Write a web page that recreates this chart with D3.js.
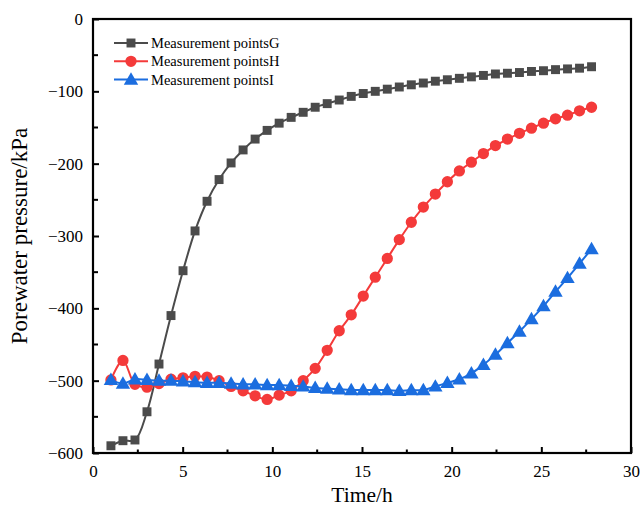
<!DOCTYPE html>
<html><head><meta charset="utf-8">
<script src="https://cdn.jsdelivr.net/npm/d3@7"></script>
<style>body{margin:0;background:#fff}svg{display:block}</style>
</head><body>
<svg id="c" width="641" height="511"></svg>
<script>
const times = d3.range(41).map(i => +(1 + i * 0.67).toFixed(2));
const seriesNames = ["Measurement pointsG", "Measurement pointsH", "Measurement pointsI"];
const valuesG = [-590,-583,-582,-543,-477,-410,-348,-293,-252,-222,-199,-181,-166,-154,-144,-136,-129,-122,-117,-112,-107,-103,-100,-97,-94,-91,-88.5,-86,-84,-82,-80,-78,-76,-75,-74,-72.5,-71.5,-70,-69,-68,-66];
const valuesH = [-499,-472,-505,-509,-504,-498,-496,-494,-495,-500,-508,-514,-521,-526,-520,-514,-500,-483,-458,-431,-409,-383,-357,-331,-305,-281,-260,-242,-225,-210,-198,-186,-175,-166,-158,-151,-144,-138,-133,-127,-122];
const valuesI = [-499,-504,-498,-499,-500,-500,-501,-502,-503,-503,-504,-505,-505,-506,-506,-507,-508,-510,-511,-512,-513,-513,-513,-513,-514,-513,-513,-508,-503,-498,-490,-478,-464,-448,-432,-415,-397,-377,-358,-338,-318];
const xTicks = [0,5,10,15,20,25,30];
const yTicks = [0,-100,-200,-300,-400,-500,-600];
const colors = ["#4b4b4b", "#f43a3a", "#1b6ddf"];
const symbols = [d3.symbolSquare, d3.symbolCircle, d3.symbolTriangle];
const symSizes = [80, 100, 90];

const svg = d3.select("#c");
const L = 93, R = 631, T = 19, B = 453;
const x = d3.scaleLinear().domain([0,30]).range([L,R]);
const y = d3.scaleLinear().domain([-600,0]).range([B,T]);
const font = "'Liberation Serif','Times New Roman',serif";

// minor ticks
const xMinor = d3.range(2.5, 30, 5);
const yMinor = d3.range(-550, 0, 100);
const g = svg.append("g");
g.selectAll(".xm").data(xMinor).join("line")
  .attr("x1", d => x(d)).attr("x2", d => x(d)).attr("y1", B).attr("y2", B-3.5)
  .attr("stroke", "#000").attr("stroke-width", 2);
g.selectAll(".ym").data(yMinor).join("line")
  .attr("y1", d => y(d)).attr("y2", d => y(d)).attr("x1", L).attr("x2", L+5)
  .attr("stroke", "#000").attr("stroke-width", 2);

const xAxis = svg.append("g").attr("transform", `translate(0,${B})`)
  .call(d3.axisBottom(x).tickValues(xTicks).tickSizeInner(-6).tickSizeOuter(0).tickPadding(12));
const yAxis = svg.append("g").attr("transform", `translate(${L},0)`)
  .call(d3.axisLeft(y).tickValues(yTicks).tickSizeInner(-6).tickSizeOuter(0).tickPadding(10));
[xAxis, yAxis].forEach(a => {
  a.select(".domain").remove();
  a.selectAll(".tick line").attr("stroke", "#000").attr("stroke-width", 2);
  a.selectAll(".tick text").attr("font-family", font).attr("font-size", 17).attr("fill", "#000");
});

// frame
svg.append("rect").attr("x", L).attr("y", T).attr("width", R-L).attr("height", B-T)
  .attr("fill", "none").attr("stroke", "#000").attr("stroke-width", 2.2);

const data = [valuesG, valuesH, valuesI];
const line = d3.line().x((d,i) => x(times[i])).y(d => y(d)).curve(d3.curveCatmullRom.alpha(0.5));
data.forEach((vals, k) => {
  const s = svg.append("g");
  s.append("path").attr("d", line(vals)).attr("fill", "none")
    .attr("stroke", colors[k]).attr("stroke-width", 2);
  s.selectAll("path.m").data(vals).join("path").attr("class", "m")
    .attr("transform", (d,i) => `translate(${x(times[i])},${y(d) + (k===2 ? 1 : 0)})`)
    .attr("d", d3.symbol().type(symbols[k]).size(symSizes[k]))
    .attr("fill", colors[k]);
});

// legend
const leg = svg.append("g");
seriesNames.forEach((n, k) => {
  const yy = 43 + k * 18.3;
  leg.append("line").attr("x1", 114).attr("x2", 148).attr("y1", yy).attr("y2", yy)
    .attr("stroke", colors[k]).attr("stroke-width", 2);
  leg.append("path").attr("transform", `translate(131,${yy + (k===2 ? 1 : 0)})`)
    .attr("d", d3.symbol().type(symbols[k]).size(symSizes[k])).attr("fill", colors[k]);
  leg.append("text").attr("x", 151).attr("y", yy + 5).text(n)
    .attr("font-family", font).attr("font-size", 14.5).attr("fill", "#000");
});

// titles
svg.append("text").attr("x", (L+R)/2).attr("y", 502).attr("text-anchor", "middle")
  .attr("font-family", font).attr("font-size", 21.5).text("Time/h");
svg.append("text").attr("transform", `translate(27,${(T+B)/2}) rotate(-90)`).attr("text-anchor", "middle")
  .attr("font-family", font).attr("font-size", 23).text("Porewater pressure/kPa");
</script>
</body></html>
